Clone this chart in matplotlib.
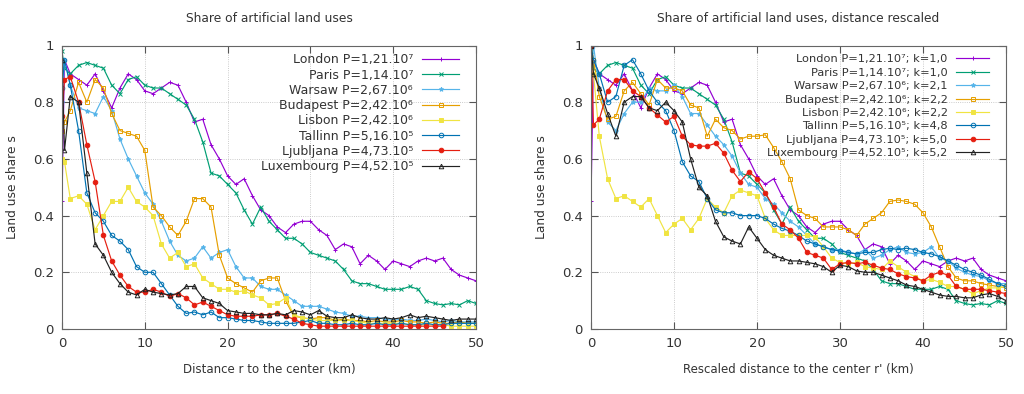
import numpy as np
import matplotlib
matplotlib.use("Agg")
import matplotlib.pyplot as plt

# Share of artificial land uses vs distance to the center, 8 European cities

nan = np.nan

# distances (km), same grid for both panels
r_km = [0, 0.3] + list(range(1, 51))

cities = ["London", "Paris", "Warsaw", "Budapest", "Lisbon", "Tallinn", "Ljubljana", "Luxembourg"]
pop_label = ["1,21.10⁷", "1,14.10⁷", "2,67.10⁶", "2,42.10⁶", "2,42.10⁶",
             "5,16.10⁵", "4,73.10⁵", "4,52.10⁵"]
k_label = ["1,0", "1,0", "2,1", "2,2", "2,2", "4,8", "5,0", "5,2"]

# left panel: share vs real distance r
london = [0.45, 0.95, 0.90, 0.88, 0.86, 0.90, 0.84, 0.78, 0.85, 0.90, 0.88, 0.84,
          0.83, 0.85, 0.87, 0.86, 0.80, 0.73, 0.74, 0.65, 0.60, 0.54,
          0.51, 0.53, 0.47, 0.42, 0.40, 0.36, 0.34, 0.37, 0.38, 0.38,
          0.35, 0.33, 0.28, 0.30, 0.29, 0.23, 0.26, 0.24, 0.21, 0.24,
          0.23, 0.22, 0.24, 0.25, 0.24, 0.25, 0.21, 0.19, 0.18, 0.17]
paris = [0.98, 0.92, 0.90, 0.93, 0.94, 0.93, 0.92, 0.86, 0.83, 0.88, 0.89, 0.86,
         0.85, 0.85, 0.83, 0.81, 0.79, 0.74, 0.66, 0.55, 0.54, 0.51,
         0.48, 0.42, 0.37, 0.43, 0.38, 0.35, 0.32, 0.32, 0.30, 0.27,
         0.26, 0.25, 0.24, 0.21, 0.17, 0.16, 0.16, 0.15, 0.14, 0.14,
         0.14, 0.15, 0.14, 0.10, 0.09, 0.085, 0.09, 0.085, 0.10, 0.09]
warsaw = [0.80, 0.95, 0.86, 0.78, 0.77, 0.76, 0.82, 0.77, 0.67, 0.60, 0.54, 0.48,
          0.44, 0.38, 0.31, 0.26, 0.24, 0.25, 0.29, 0.25, 0.27, 0.28,
          0.22, 0.18, 0.18, 0.15, 0.14, 0.14, 0.12, 0.10, 0.08, 0.08,
          0.08, 0.07, 0.06, 0.055, 0.045, 0.045, 0.04, 0.04, 0.035, 0.03,
          0.035, 0.03, 0.03, 0.035, 0.03, 0.025, 0.03, 0.025, 0.025, 0.025]
budapest = [0.70, 0.73, 0.77, 0.87, 0.80, 0.88, 0.85, 0.76, 0.70, 0.69, 0.68, 0.63,
            0.43, 0.40, 0.36, 0.33, 0.38, 0.46, 0.46, 0.43, 0.26, 0.18,
            0.16, 0.145, 0.13, 0.17, 0.18, 0.18, 0.10, 0.045, 0.04, 0.035,
            0.04, 0.04, 0.03, 0.035, 0.03, 0.03, 0.025, 0.03, 0.025, 0.025,
            0.03, 0.025, 0.025, 0.02, 0.025, 0.02, 0.02, 0.025, 0.02, 0.02]
lisbon = [0.60, 0.59, 0.46, 0.47, 0.44, 0.35, 0.40, 0.45, 0.45, 0.50, 0.45, 0.43,
          0.40, 0.30, 0.25, 0.27, 0.22, 0.23, 0.18, 0.16, 0.14, 0.14,
          0.13, 0.135, 0.12, 0.11, 0.085, 0.09, 0.11, 0.05, 0.04, 0.035,
          0.03, 0.03, 0.03, 0.03, 0.03, 0.025, 0.02, 0.02, 0.02, 0.02,
          0.02, 0.015, 0.015, 0.015, 0.015, 0.015, 0.01, 0.01, 0.01, 0.01]
tallinn = [0.85, 0.95, 0.86, 0.70, 0.48, 0.41, 0.38, 0.33, 0.31, 0.28, 0.22, 0.20,
           0.20, 0.16, 0.12, 0.08, 0.055, 0.06, 0.05, 0.06, 0.04, 0.04,
           0.035, 0.03, 0.03, 0.025, 0.02, 0.02, 0.02, 0.02, 0.025, 0.03,
           0.02, 0.02, 0.015, 0.015, 0.02, 0.015, 0.015, 0.02, 0.015, 0.015,
           0.02, 0.015, 0.015, 0.02, 0.015, 0.015, 0.02, 0.02, 0.02, 0.02]
ljubljana = [0.75, 0.88, 0.89, 0.80, 0.65, 0.52, 0.33, 0.24, 0.19, 0.15, 0.13, 0.13,
             0.14, 0.13, 0.115, 0.125, 0.11, 0.085, 0.095, 0.08, 0.065, 0.05,
             0.045, 0.045, 0.045, 0.05, 0.05, 0.055, 0.045, 0.035, 0.02, 0.015,
             0.01, 0.01, 0.01, 0.01, 0.01, 0.01, 0.01, 0.01, 0.01, 0.01,
             0.01, 0.01, 0.01, 0.01, 0.01, 0.01, nan, nan, nan, nan]
luxembourg = [0.95, 0.63, 0.82, 0.80, 0.55, 0.30, 0.26, 0.20, 0.16, 0.13, 0.12, 0.14,
              0.13, 0.125, 0.12, 0.125, 0.15, 0.15, 0.11, 0.10, 0.09, 0.065,
              0.06, 0.055, 0.055, 0.05, 0.05, 0.055, 0.05, 0.065, 0.06, 0.05,
              0.065, 0.045, 0.04, 0.04, 0.05, 0.04, 0.035, 0.035, 0.04, 0.035,
              0.04, 0.05, 0.04, 0.045, 0.04, 0.035, 0.03, 0.035, 0.035, 0.035]

# right panel: share vs rescaled distance r' (London and Paris have k=1)
warsaw_rs = [0.90, 1.00, 0.85, 0.73, 0.70, 0.76, 0.80, 0.80, 0.85, 0.84, 0.84, 0.86,
             0.82, 0.76, 0.76, 0.72, 0.68, 0.65, 0.61, 0.55, 0.51, 0.50,
             0.46, 0.44, 0.41, 0.38, 0.36, 0.33, 0.30, 0.29, 0.28, 0.28,
             0.27, 0.265, 0.28, 0.25, 0.26, 0.28, 0.29, 0.27, 0.265, 0.27,
             0.29, 0.25, 0.24, 0.215, 0.20, 0.19, 0.185, 0.17, 0.16, 0.16]
budapest_rs = [1.00, 0.95, 0.82, 0.74, 0.75, 0.84, 0.87, 0.83, 0.79, 0.88, 0.85, 0.85,
               0.84, 0.79, 0.78, 0.68, 0.74, 0.71, 0.70, 0.67, 0.68, 0.68,
               0.685, 0.64, 0.59, 0.53, 0.42, 0.40, 0.39, 0.36, 0.36, 0.36,
               0.35, 0.33, 0.37, 0.39, 0.41, 0.45, 0.455, 0.45, 0.44, 0.41,
               0.36, 0.29, 0.22, 0.18, 0.17, 0.17, 0.16, 0.155, 0.15, 0.145]
lisbon_rs = [1.00, 0.90, 0.68, 0.53, 0.46, 0.47, 0.45, 0.43, 0.46, 0.40, 0.34, 0.37,
             0.39, 0.35, 0.39, 0.46, 0.43, 0.41, 0.47, 0.49, 0.48, 0.47,
             0.39, 0.35, 0.33, 0.33, 0.33, 0.33, 0.325, 0.29, 0.25, 0.235,
             0.23, 0.235, 0.22, 0.215, 0.21, 0.24, 0.22, 0.20, 0.185, 0.17,
             0.175, 0.165, 0.15, 0.15, 0.14, 0.125, 0.135, 0.145, 0.145, 0.15]
tallinn_rs = [1.00, 0.95, 0.90, 0.80, 0.82, 0.93, 0.95, 0.90, 0.84, 0.80, 0.77, 0.70,
              0.59, 0.54, 0.52, 0.46, 0.42, 0.41, 0.41, 0.40, 0.40, 0.40,
              0.39, 0.37, 0.355, 0.345, 0.33, 0.31, 0.30, 0.29, 0.28, 0.275,
              0.27, 0.265, 0.27, 0.27, 0.28, 0.285, 0.28, 0.285, 0.28, 0.27,
              0.265, 0.255, 0.24, 0.225, 0.21, 0.20, 0.19, 0.175, 0.16, 0.15]
ljubljana_rs = [1.00, 0.72, 0.74, 0.84, 0.88, 0.88, 0.84, 0.82, 0.78, 0.755, 0.73, 0.75,
                0.68, 0.65, 0.645, 0.645, 0.655, 0.62, 0.56, 0.52, 0.555, 0.53,
                0.48, 0.43, 0.37, 0.35, 0.32, 0.27, 0.26, 0.25, 0.21, 0.23,
                0.235, 0.23, 0.235, 0.225, 0.215, 0.21, 0.195, 0.185, 0.18, 0.17,
                0.19, 0.20, 0.19, 0.15, 0.14, 0.14, 0.14, 0.135, 0.13, 0.125]
luxembourg_rs = [1.00, 0.90, 0.85, 0.76, 0.68, 0.80, 0.82, 0.82, 0.78, 0.77, 0.80, 0.77,
                 0.73, 0.60, 0.50, 0.47, 0.38, 0.325, 0.31, 0.30, 0.36, 0.32,
                 0.28, 0.26, 0.25, 0.24, 0.24, 0.235, 0.23, 0.22, 0.20, 0.225,
                 0.22, 0.205, 0.20, 0.20, 0.19, 0.18, 0.17, 0.155, 0.15, 0.14,
                 0.13, 0.12, 0.115, 0.115, 0.11, 0.11, 0.12, 0.125, 0.115, 0.10]

left_series = [london, paris, warsaw, budapest, lisbon, tallinn, ljubljana, luxembourg]
right_series = [london, paris, warsaw_rs, budapest_rs, lisbon_rs, tallinn_rs, ljubljana_rs, luxembourg_rs]

# gnuplot-like styles
colors = ['#9400d3', '#009e73', '#56b4e9', '#e69f00', '#f0e442', '#0072b2', '#e51e10', '#222222']
markers = ['+', 'x', '*', 's', 's', 'o', 'o', '^']
filled = [True, True, True, False, True, False, True, False]

plt.rcParams['font.family'] = 'DejaVu Sans'
txt_col = '#333333'

fig = plt.figure(figsize=(10.24, 3.94), dpi=100)
axL = fig.add_axes([62/1024, 65/394, 414/1024, 283.5/394])
axR = fig.add_axes([591/1024, 65/394, 415/1024, 283.5/394])


def draw(ax, series, labels, title, xlabel, leg_fs, leg_sp, leg_top):
    for i in range(len(series)):
        mfc = colors[i] if filled[i] else 'none'
        ax.plot(r_km, series[i], color=colors[i], lw=0.85, marker=markers[i],
                markersize=3.3, markerfacecolor=mfc, markeredgecolor=colors[i],
                markeredgewidth=0.7, label=labels[i])
    ax.set_xlim(0, 50)
    ax.set_ylim(0, 1)
    ax.set_xticks([0, 10, 20, 30, 40, 50])
    ax.set_yticks([0, 0.2, 0.4, 0.6, 0.8, 1])
    ax.set_yticklabels(['0', '0.2', '0.4', '0.6', '0.8', '1'])
    ax.tick_params(direction='in', length=5, width=0.8, top=True, right=True,
                   labelsize=9.5, colors='#555555', labelcolor=txt_col, pad=6)
    ax.grid(True, linestyle=':', color='#bbbbbb', lw=0.6)
    for s in ax.spines.values():
        s.set_color('#666666')
        s.set_linewidth(0.8)
    ax.set_title(title, fontsize=8.8, color=txt_col, pad=17)
    ax.set_xlabel(xlabel, fontsize=8.5, color=txt_col, labelpad=9)
    ax.set_ylabel('Land use share s', fontsize=8.8, color=txt_col, labelpad=10)
    leg = ax.legend(loc='upper right', bbox_to_anchor=(0.971, leg_top), frameon=False,
                    markerfirst=False, numpoints=1, fontsize=leg_fs,
                    handlelength=2.95, handletextpad=0.72, labelspacing=leg_sp,
                    borderaxespad=0.0)
    for t in leg.get_texts():
        t.set_color(txt_col)


left_labels = [f"{c} P={p}" for c, p in zip(cities, pop_label)]
right_labels = [f"{c} P={p}; k={k}" for c, p, k in zip(cities, pop_label, k_label)]

draw(axL, left_series, left_labels, 'Share of artificial land uses',
     'Distance r to the center (km)', 9.0, 0.18, 0.99)
draw(axR, right_series, right_labels, 'Share of artificial land uses, distance rescaled',
     "Rescaled distance to the center r' (km)", 8.2, 0.30, 0.985)

fig.savefig('out.png', dpi=100)
